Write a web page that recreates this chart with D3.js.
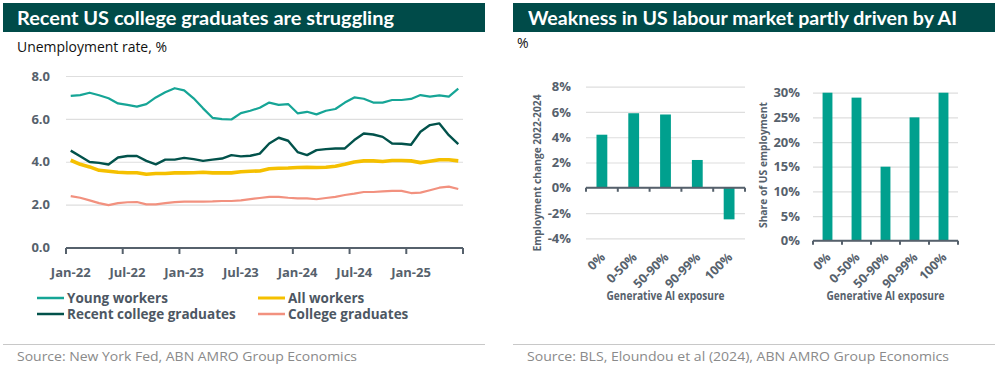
<!DOCTYPE html>
<html><head><meta charset="utf-8">
<script src="https://cdn.jsdelivr.net/npm/d3@7"></script>
<style>
body{margin:0;background:#fff;}
svg{display:block;font-family:"Open Sans",Lato,sans-serif;}
</style></head>
<body><svg id="c" width="1002" height="370"></svg>
<script>
// ---------- data ----------
const months = d3.timeMonth.range(new Date(2022,0,1), new Date(2025,6,1)); // Jan-22 .. Jun-25
const monthTickLabels = ["Jan-22","Jul-22","Jan-23","Jul-23","Jan-24","Jul-24","Jan-25"];
const youngWorkers = [7.07,7.11,7.22,7.10,6.96,6.72,6.65,6.57,6.69,7.00,7.24,7.43,7.33,6.96,6.49,6.05,5.99,5.97,6.27,6.38,
  6.52,6.76,6.65,6.69,6.26,6.33,6.21,6.38,6.46,6.76,7.00,6.94,6.76,6.76,6.88,6.88,6.93,7.11,7.04,7.10,7.04,7.41];
const recentGrads = [4.52,4.26,3.99,3.95,3.87,4.20,4.27,4.27,4.04,3.88,4.10,4.10,4.18,4.12,4.04,4.10,4.15,4.31,4.25,4.28,
  4.38,4.85,5.12,4.98,4.45,4.31,4.54,4.59,4.62,4.62,5.01,5.32,5.27,5.16,4.85,4.84,4.79,5.40,5.71,5.79,5.24,4.82];
const allWorkers = [4.07,3.88,3.76,3.60,3.56,3.51,3.49,3.49,3.42,3.45,3.45,3.48,3.48,3.49,3.51,3.48,3.48,3.48,3.53,3.56,
  3.57,3.67,3.70,3.71,3.73,3.74,3.73,3.74,3.79,3.88,3.99,4.04,4.04,4.01,4.06,4.06,4.04,3.96,4.02,4.09,4.09,4.04];
const collegeGrads = [2.40,2.32,2.20,2.07,1.98,2.07,2.11,2.12,2.01,2.01,2.07,2.12,2.14,2.14,2.14,2.15,2.17,2.17,2.20,2.26,
  2.31,2.36,2.36,2.32,2.29,2.29,2.25,2.31,2.36,2.45,2.51,2.59,2.59,2.62,2.64,2.64,2.54,2.56,2.67,2.79,2.84,2.73];
const seriesNames = ["Young workers","All workers","Recent college graduates","College graduates"];
const unempTicks = [0,2,4,6,8];

const exposureCats = ["0%","0-50%","50-90%","90-99%","100%"];
const employmentChange = [4.2,5.9,5.8,2.2,-2.5];
const changeTicks = [-4,-2,0,2,4,6,8];
const employmentShare = [30,29,15,25,30];
const shareTicks = [0,5,10,15,20,25,30];

// ---------- styles ----------
const TITLE_BG = "#004b49", AXIS = "#56616c", GRID = "#dedede";
const FONT = "'Open Sans',Lato,sans-serif";
const colors = {"Young workers":"#16a596","Recent college graduates":"#02524b","All workers":"#f5c000","College graduates":"#f2917f"};
const widths = {"Young workers":2.2,"Recent college graduates":2.4,"All workers":3.6,"College graduates":2.2};
const BAR = "#00a08e";

const svg = d3.select("#c");

function titleBar(x0,x1,text,tx,tlen){
  svg.append("rect").attr("x",x0).attr("y",3).attr("width",x1-x0).attr("height",29).attr("fill",TITLE_BG);
  svg.append("text").attr("x",tx).attr("y",24.5).attr("fill","#fff").attr("font-size",18).attr("font-weight",700)
    .attr("font-family","Lato,sans-serif")
    .attr("textLength",tlen).attr("lengthAdjust","spacingAndGlyphs").text(text);
}
function source(x0,x1,text,tx,len){
  svg.append("line").attr("x1",x0).attr("x2",x1).attr("y1",344.5).attr("y2",344.5).attr("stroke","#c8c8c8");
  svg.append("text").attr("x",tx).attr("y",361).attr("fill","#8a8a8a").attr("font-size",13)
    .attr("textLength",len).attr("lengthAdjust","spacingAndGlyphs").text(text);
}

// ---------- left chart ----------
titleBar(3,485,"Recent US college graduates are struggling",17,377);
svg.append("text").attr("x",17).attr("y",52).attr("font-size",14).attr("fill","#111")
  .attr("textLength",150).attr("lengthAdjust","spacingAndGlyphs").text("Unemployment rate, %");

const xL = d3.scaleBand().domain(months).range([66,463]).padding(0);
const yL = d3.scaleLinear().domain([0,8]).range([247.5,76]);

const gY = svg.append("g").attr("transform","translate(66,0)")
  .call(d3.axisLeft(yL).tickValues(unempTicks).tickFormat(d3.format(".1f")).tickSize(-397).tickPadding(16));
gY.select(".domain").remove();
gY.selectAll(".tick line").attr("stroke",GRID).attr("stroke-width",1.2);
gY.selectAll(".tick text").attr("fill",AXIS).attr("font-size",13).attr("font-weight",700).attr("font-family",FONT);

const tickMonths = months.filter((d,i)=>i%6===0);
const gX = svg.append("g").attr("transform","translate(0,248)")
  .call(d3.axisBottom(xL).tickValues(tickMonths).tickFormat((d,i)=>monthTickLabels[i]).tickSize(0).tickPadding(20));
gX.select(".domain").remove();
gX.selectAll(".tick text").attr("fill",AXIS).attr("font-size",13).attr("font-weight",700).attr("font-family",FONT);
svg.append("line").attr("x1",66).attr("x2",463).attr("y1",248).attr("y2",248).attr("stroke",AXIS).attr("stroke-width",2);
const bounds = tickMonths.map(d=>xL(d)).concat([463]);
svg.selectAll(".xb").data(bounds).enter().append("line").attr("x1",d=>d).attr("x2",d=>d)
  .attr("y1",248).attr("y2",254).attr("stroke",AXIS).attr("stroke-width",2);

const line = d3.line().x((d,i)=>xL(months[i])+xL.bandwidth()/2).y(d=>yL(d));
const seriesData = {"Young workers":youngWorkers,"Recent college graduates":recentGrads,"All workers":allWorkers,"College graduates":collegeGrads};
["College graduates","All workers","Recent college graduates","Young workers"].forEach(n=>{
  svg.append("path").datum(seriesData[n]).attr("d",line).attr("fill","none")
    .attr("stroke",colors[n]).attr("stroke-width",widths[n]).attr("stroke-linejoin","round");
});

// legend
const legPos = [[37,298],[258,298],[37,314],[258,314]];
seriesNames.forEach((n,i)=>{
  const [lx,ly]=legPos[i];
  svg.append("line").attr("x1",lx).attr("x2",lx+27).attr("y1",ly).attr("y2",ly)
    .attr("stroke",colors[n]).attr("stroke-width",n==="All workers"?3:2.5);
  svg.append("text").attr("x",lx+30).attr("y",ly+5).attr("font-size",13.5).attr("font-weight",700)
    .attr("fill","#4d5763").text(n);
});
source(3,485,"Source: New York Fed, ABN AMRO Group Economics",17,340);

// ---------- right panel ----------
titleBar(513,995,"Weakness in US labour market partly driven by AI",528,429);
svg.append("text").attr("x",517).attr("y",48).attr("font-size",14).attr("fill","#111").text("%");
source(513,995,"Source: BLS, Eloundou et al (2024), ABN AMRO Group Economics",527,422);

function barChart(opts){
  const {x0,x1,yDom,yTop,yBot,ticks,values,ylabel,ylabX,ylabLen,tickX} = opts;
  const x = d3.scaleBand().domain(exposureCats).range([x0,x1]).paddingInner(0.66).paddingOuter(0.33);
  const y = d3.scaleLinear().domain(yDom).range([yBot,yTop]);
  const g = svg.append("g").attr("transform",`translate(${x0},0)`)
    .call(d3.axisLeft(y).tickValues(ticks).tickFormat(d=>d+"%").tickSize(-(x1-x0)).tickPadding(x0-tickX));
  g.select(".domain").remove();
  g.selectAll(".tick line").attr("stroke",GRID).attr("stroke-width",1.2);
  g.selectAll(".tick text").attr("fill",AXIS).attr("font-size",13).attr("font-weight",700).attr("font-family",FONT);
  svg.selectAll(null).data(values).enter().append("rect")
    .attr("x",(d,i)=>x(exposureCats[i])).attr("width",x.bandwidth())
    .attr("y",d=>y(Math.max(0,d))).attr("height",d=>Math.abs(y(d)-y(0))).attr("fill",BAR);
  const y0 = y(0);
  svg.append("line").attr("x1",x0).attr("x2",x1).attr("y1",y0).attr("y2",y0).attr("stroke",AXIS).attr("stroke-width",2);
  const step = x.step();
  const bds = exposureCats.map((c,i)=>x0+i*step).concat([x1]);
  svg.selectAll(null).data(bds).enter().append("line").attr("x1",d=>d).attr("x2",d=>d)
    .attr("y1",y0).attr("y2",y0+4).attr("stroke",AXIS).attr("stroke-width",2);
  exposureCats.forEach(c=>{
    const cx = x(c)+x.bandwidth()/2+4;
    svg.append("text").attr("transform",`translate(${cx},${opts.labY}) rotate(-45)`).attr("text-anchor","end")
      .attr("fill",AXIS).attr("font-size",12.5).attr("font-weight",700).text(c);
  });
  svg.append("text").attr("x",(x0+x1)/2).attr("y",300).attr("text-anchor","middle")
    .attr("fill",AXIS).attr("font-size",11.5).attr("font-weight",700)
    .attr("textLength",118).attr("lengthAdjust","spacingAndGlyphs").text("Generative AI exposure");
  svg.append("text").attr("transform",`translate(${ylabX},${opts.ylabY}) rotate(-90)`).attr("text-anchor","middle")
    .attr("fill",AXIS).attr("font-size",11).attr("font-weight",700)
    .attr("textLength",ylabLen).attr("lengthAdjust","spacingAndGlyphs").text(ylabel);
}
barChart({x0:586,x1:745,yDom:[-4,8],yTop:86.7,yBot:238.3,ticks:changeTicks,values:employmentChange,
  ylabel:"Employment change 2022-2024",ylabX:541,ylabY:173,ylabLen:157,tickX:571,labY:258});
barChart({x0:813,x1:958,yDom:[0,30],yTop:92.7,yBot:240.7,ticks:shareTicks,values:employmentShare,
  ylabel:"Share of US employment",ylabX:767,ylabY:165,ylabLen:126,tickX:800,labY:258});
</script></body></html>
